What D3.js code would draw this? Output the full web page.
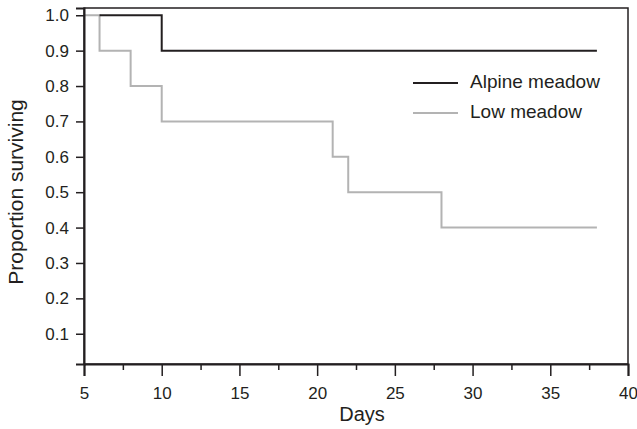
<!DOCTYPE html>
<html>
<head>
<meta charset="UTF-8">
<title>Proportion surviving</title>
<script src="https://d3js.org/d3.v7.min.js"></script>
<style>
  body { margin: 0; background: #fff; }
  text { font-family: "Liberation Sans", Arial, sans-serif; fill: #231f20; }
</style>
</head>
<body>
<div id="chart"></div>
<script>
// step survival curves: day where each level starts, last entry = end of curve
const alpineDays = [6, 10, 38];
const alpineVals = [1.0, 0.9, 0.9];
const lowDays = [5, 6, 8, 10, 21, 22, 28, 38];
const lowVals = [1.0, 0.9, 0.8, 0.7, 0.6, 0.5, 0.4, 0.4];
const xTicks = [5, 10, 15, 20, 25, 30, 35, 40];
const xMinor = [7.5, 12.5, 17.5, 22.5, 27.5, 32.5, 37.5];
const yTicks = [0.1, 0.2, 0.3, 0.4, 0.5, 0.6, 0.7, 0.8, 0.9, 1.0];
const seriesNames = ["Alpine meadow", "Low meadow"];
const seriesColors = ["#231f20", "#b3b3b3"];

const W = 637, H = 429;
const margin = { top: 8, right: 9, bottom: 65, left: 84 };
const width = W - margin.left - margin.right;
const height = H - margin.top - margin.bottom;

const svg = d3.select("#chart").append("svg")
  .attr("width", W).attr("height", H);
const g = svg.append("g")
  .attr("transform", "translate(" + margin.left + "," + margin.top + ")");

const x = d3.scaleLinear().domain([5, 40]).range([0, width]);
const y = d3.scaleLinear().domain([0.0145, 1.0205]).range([height, 0]);

// frame
g.append("rect")
  .attr("width", width).attr("height", height)
  .attr("fill", "none").attr("stroke", "#231f20").attr("stroke-width", 1.5);

const line = d3.line().x(d => x(d[0])).y(d => y(d[1])).curve(d3.curveStepAfter);

const series = [
  d3.zip(alpineDays, alpineVals),
  d3.zip(lowDays, lowVals)
];

// draw low meadow first so alpine sits on top
[1, 0].forEach(i => {
  g.append("path")
    .datum(series[i])
    .attr("fill", "none")
    .attr("stroke", seriesColors[i])
    .attr("stroke-width", 2)
    .attr("d", line);
});

// axes
const xAxis = g.append("g")
  .attr("transform", "translate(0," + height + ")")
  .call(d3.axisBottom(x).tickValues(xTicks).tickSize(12).tickPadding(11).tickFormat(d3.format("d")));
g.append("g")
  .attr("transform", "translate(0," + height + ")")
  .call(d3.axisBottom(x).tickValues(xMinor).tickSize(6).tickFormat(""))
  .call(a => a.select(".domain").remove())
  .selectAll("line").attr("stroke", "#231f20").attr("stroke-width", 1.5);

const yAxis = g.append("g")
  .call(d3.axisLeft(y).tickValues(yTicks).tickSize(8).tickPadding(7).tickFormat(d3.format(".1f")));

[xAxis, yAxis].forEach(a => {
  a.select(".domain").attr("stroke", "#231f20").attr("stroke-width", 2);
  a.selectAll(".tick line").attr("stroke", "#231f20").attr("stroke-width", 1.5);
  a.selectAll(".tick text").style("font-size", "17px").attr("fill", "#231f20");
});

// axis titles
svg.append("text")
  .attr("x", 362)
  .attr("y", 421)
  .attr("text-anchor", "middle")
  .style("font-size", "20px")
  .text("Days");

svg.append("text")
  .attr("transform", "rotate(-90)")
  .attr("x", -192)
  .attr("y", 23)
  .attr("text-anchor", "middle")
  .style("font-size", "21px")
  .text("Proportion surviving");

// legend
const legend = svg.append("g").attr("transform", "translate(413,83)");
seriesNames.forEach((name, i) => {
  const row = legend.append("g").attr("transform", "translate(0," + i * 30 + ")");
  row.append("line")
    .attr("x1", 0).attr("x2", 45)
    .attr("stroke", seriesColors[i]).attr("stroke-width", 2);
  row.append("text")
    .attr("x", 57).attr("y", 5)
    .style("font-size", "19px")
    .text(name);
});
</script>
</body>
</html>
